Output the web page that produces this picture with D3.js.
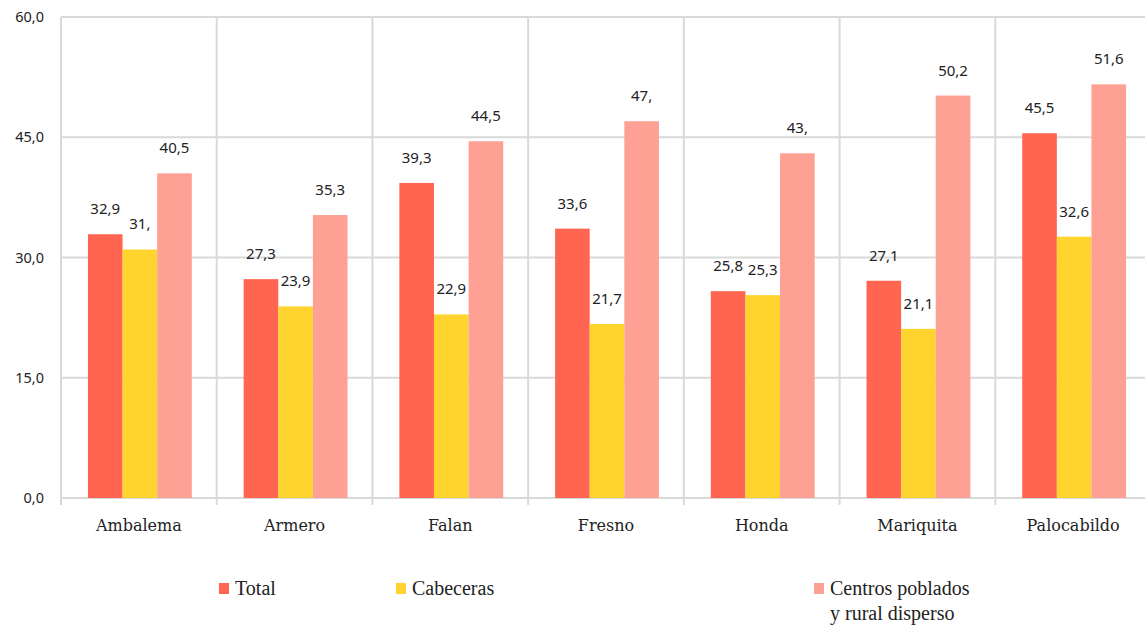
<!DOCTYPE html>
<html>
<head>
<meta charset="utf-8">
<script src="https://cdn.jsdelivr.net/npm/d3@7"></script>
<style>
  body { margin: 0; background: #fff; }
  svg { display: block; }
</style>
</head>
<body>
<script>
// Data
var municipios = ["Ambalema", "Armero", "Falan", "Fresno", "Honda", "Mariquita", "Palocabildo"];
var total      = [32.9, 27.3, 39.3, 33.6, 25.8, 27.1, 45.5];
var cabeceras  = [31.0, 23.9, 22.9, 21.7, 25.3, 21.1, 32.6];
var centros    = [40.5, 35.3, 44.5, 47.0, 43.0, 50.2, 51.6];
var yTicks     = [0, 15, 30, 45, 60];
var seriesNames = ["Total", "Cabeceras", "Centros poblados y rural disperso"];
var colors = ["#ff6550", "#ffd42f", "#ffa095"];

var W = 1145, H = 625;
var margin = {top: 17, right: -6, bottom: 127, left: 61},
    width = W - margin.left - margin.right,
    height = H - margin.top - margin.bottom;

var svg = d3.select("body").append("svg")
    .attr("width", W)
    .attr("height", H);

var g = svg.append("g")
    .attr("transform", "translate(" + margin.left + "," + margin.top + ")");

var x = d3.scaleBand()
    .domain(municipios)
    .range([0, width])
    .paddingInner(0)
    .paddingOuter(0);

var xInner = d3.scaleBand()
    .domain([0, 1, 2])
    .range([x.bandwidth() * 0.173, x.bandwidth() * 0.84]);

var y = d3.scaleLinear()
    .domain([0, 60])
    .range([height, 0]);

// horizontal grid
g.selectAll(".hgrid")
    .data(yTicks)
    .enter().append("line")
    .attr("x1", 0).attr("x2", width)
    .attr("y1", function(d) { return y(d); })
    .attr("y2", function(d) { return y(d); })
    .attr("stroke", "#d9d9d9")
    .attr("stroke-width", 2);

// vertical category dividers (with little ticks below the axis)
var edges = municipios.map(function(m) { return x(m); }).concat([width]);
g.selectAll(".vgrid")
    .data(edges)
    .enter().append("line")
    .attr("x1", function(d) { return d; })
    .attr("x2", function(d) { return d; })
    .attr("y1", 0)
    .attr("y2", height + 7)
    .attr("stroke", "#d9d9d9")
    .attr("stroke-width", 2);

// y labels
g.selectAll(".ylab")
    .data(yTicks)
    .enter().append("text")
    .attr("x", -17)
    .attr("y", function(d) { return y(d); })
    .attr("dy", "0.35em")
    .attr("text-anchor", "end")
    .attr("font-family", "Noto Sans, sans-serif")
    .attr("font-size", 14.5)
    .attr("fill", "#222")
    .text(function(d) { return d3.format(".1f")(d).replace(".", ","); });

// x labels
g.selectAll(".xlab")
    .data(municipios)
    .enter().append("text")
    .attr("x", function(d) { return x(d) + x.bandwidth() / 2; })
    .attr("y", height + 27)
    .attr("dy", "0.35em")
    .attr("text-anchor", "middle")
    .attr("font-family", "DejaVu Serif, serif")
    .attr("font-size", 16)
    .attr("fill", "#222")
    .text(function(d) { return d; });

// bars
var series = [total, cabeceras, centros];
function fmt(v) {
  return Number.isInteger(v) ? v + "," : String(v).replace(".", ",");
}

series.forEach(function(vals, si) {
  var grp = g.append("g");
  grp.selectAll("rect")
    .data(vals)
    .enter().append("rect")
    .attr("x", function(d, i) { return x(municipios[i]) + xInner(si); })
    .attr("y", function(d) { return y(d); })
    .attr("width", xInner.bandwidth())
    .attr("height", function(d) { return height - y(d); })
    .attr("fill", colors[si]);

  grp.selectAll("text")
    .data(vals)
    .enter().append("text")
    .attr("x", function(d, i) { return x(municipios[i]) + xInner(si) + xInner.bandwidth() / 2; })
    .attr("y", function(d) { return y(d) - 20; })
    .attr("text-anchor", "middle")
    .attr("font-family", "Noto Sans, sans-serif")
    .attr("font-size", 15)
    .attr("fill", "#222")
    .text(fmt);
});

// legend
var legend = [
  {x: 219, lines: ["Total"]},
  {x: 396, lines: ["Cabeceras"]},
  {x: 814, lines: ["Centros poblados", "y rural disperso"]}
];
legend.forEach(function(l, i) {
  svg.append("rect")
    .attr("x", l.x)
    .attr("y", 583)
    .attr("width", 10)
    .attr("height", 11)
    .attr("fill", colors[i]);
  l.lines.forEach(function(t, j) {
    svg.append("text")
      .attr("x", l.x + 16)
      .attr("y", 588 + j * 25)
      .attr("dy", "0.35em")
      .attr("font-family", "Liberation Serif, serif")
      .attr("font-size", 20)
      .attr("fill", "#222")
      .text(t);
  });
});
</script>
</body>
</html>
